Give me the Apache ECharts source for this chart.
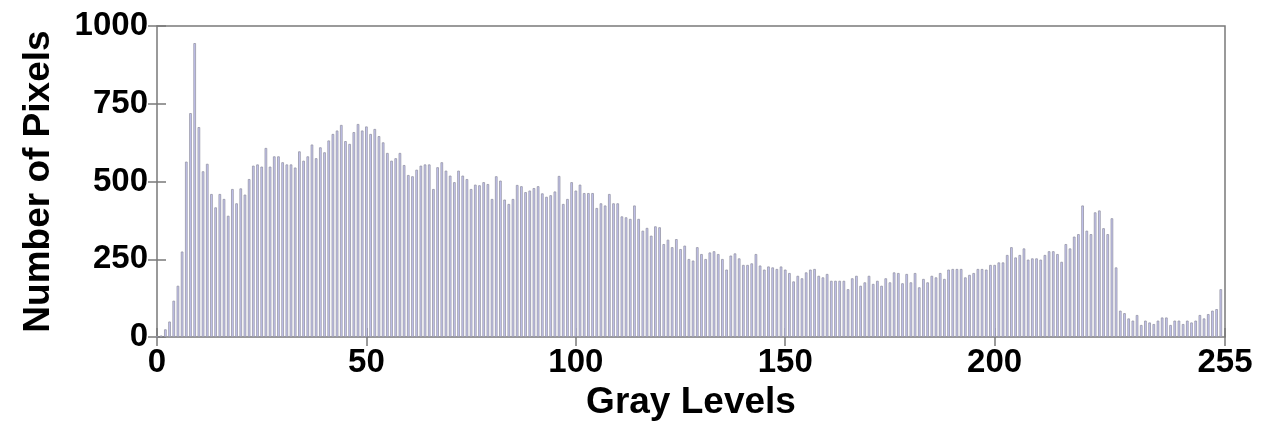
<!DOCTYPE html>
<html>
<head>
<meta charset="utf-8">
<script src="https://cdn.jsdelivr.net/npm/echarts@6/dist/echarts.min.js"></script>
<style>
html,body{margin:0;padding:0;background:#fff;}
#chart{width:1261px;height:426px;}
</style>
</head>
<body>
<div id="chart"></div>
<script>
// Gray levels 0..254 and pixel counts
const grayLevels = Array.from({length: 255}, (_, i) => i);
const pixelCounts = [
  3, 5, 25, 50, 117, 165, 275, 564, 720, 945,
  675, 533, 557, 460, 417, 460, 444, 390, 476, 430,
  478, 458, 508, 551, 555, 548, 608, 548, 581, 581,
  562, 555, 555, 545, 597, 567, 581, 619, 575, 610,
  594, 632, 653, 664, 682, 630, 621, 659, 685, 664,
  677, 653, 669, 646, 626, 592, 567, 575, 592, 553,
  521, 517, 538, 551, 555, 555, 476, 546, 562, 535,
  519, 498, 535, 519, 508, 476, 490, 488, 498, 492,
  444, 517, 503, 442, 428, 444, 489, 485, 466, 471,
  479, 485, 462, 451, 456, 468, 518, 428, 444, 498,
  471, 490, 463, 463, 463, 415, 430, 423, 460, 430,
  430, 388, 385, 380, 423, 380, 342, 351, 326, 356,
  353, 299, 313, 289, 315, 283, 294, 251, 246, 289,
  267, 251, 272, 276, 267, 251, 217, 262, 269, 253,
  232, 232, 237, 267, 230, 217, 227, 224, 219, 227,
  217, 206, 179, 197, 189, 208, 217, 219, 197, 192,
  203, 181, 181, 181, 181, 154, 189, 197, 165, 176,
  197, 171, 181, 165, 189, 176, 208, 206, 173, 203,
  176, 206, 160, 187, 176, 197, 192, 206, 187, 217,
  219, 219, 219, 192, 200, 206, 219, 219, 217, 232,
  232, 240, 240, 264, 289, 256, 264, 285, 249, 253,
  253, 249, 264, 276, 276, 267, 242, 299, 285, 323,
  331, 423, 342, 331, 401, 407, 350, 331, 382, 224,
  85, 77, 60, 53, 71, 39, 53, 47, 42, 53,
  63, 63, 39, 53, 53, 42, 53, 47, 53, 71,
  60, 74, 85, 90, 154
];
const xTickValues = [0, 50, 100, 150, 200, 255];
const yTickValues = [0, 250, 500, 750, 1000];

const seriesData = grayLevels.map((g, i) => [g, pixelCounts[i]]);

const font = 'Liberation Sans';
const tickColor = '#7a7a7a';

const chart = echarts.init(document.getElementById('chart'), null, {renderer: 'canvas'});
chart.setOption({
  animation: false,
  backgroundColor: '#ffffff',
  grid: {
    left: 157, right: 36, top: 26, bottom: 88,
    show: true, borderColor: tickColor, borderWidth: 1.5, backgroundColor: 'transparent'
  },
  xAxis: [{
    type: 'value', min: 0, max: 255, position: 'bottom',
    name: 'Gray Levels', nameLocation: 'middle', nameGap: 44,
    nameTextStyle: {fontFamily: font, fontWeight: 'bold', fontSize: 37, color: '#000'},
    axisLine: {show: false},
    axisTick: {show: true, inside: true, length: 9, customValues: xTickValues, lineStyle: {color: tickColor, width: 1.5}},
    axisLabel: {show: true, customValues: xTickValues, margin: 9, fontFamily: font, fontWeight: 'bold', fontSize: 33, color: '#000',
      formatter: v => String(v)},
    splitLine: {show: false}
  }, {
    type: 'value', min: 0, max: 255, position: 'top',
    axisLine: {show: false},
    axisTick: {show: true, inside: true, length: 9, customValues: xTickValues, lineStyle: {color: tickColor, width: 1.5}},
    axisLabel: {show: false},
    splitLine: {show: false}
  }],
  yAxis: [{
    type: 'value', min: 0, max: 1000, interval: 250, position: 'left',
    name: 'Number of Pixels', nameLocation: 'middle', nameGap: 100, nameRotate: 90,
    nameTextStyle: {fontFamily: font, fontWeight: 'bold', fontSize: 37, color: '#000'},
    axisLine: {show: false},
    axisTick: {show: true, inside: true, length: 9, lineStyle: {color: tickColor, width: 1.5}},
    axisLabel: {show: true, margin: 9, fontFamily: font, fontWeight: 'bold', fontSize: 33, color: '#000',
      formatter: v => String(v)},
    splitLine: {show: false}
  }, {
    type: 'value', min: 0, max: 1000, interval: 250, position: 'right',
    axisLine: {show: false},
    axisTick: {show: true, inside: true, length: 9, lineStyle: {color: tickColor, width: 1.5}},
    axisLabel: {show: false},
    splitLine: {show: false}
  }],
  series: [{
    type: 'bar',
    xAxisIndex: 0, yAxisIndex: 0,
    data: seriesData,
    barWidth: 2.6,
    itemStyle: {color: '#c6c6f4', borderColor: '#9696a4', borderWidth: 0.8}
  }]
});
</script>
</body>
</html>
